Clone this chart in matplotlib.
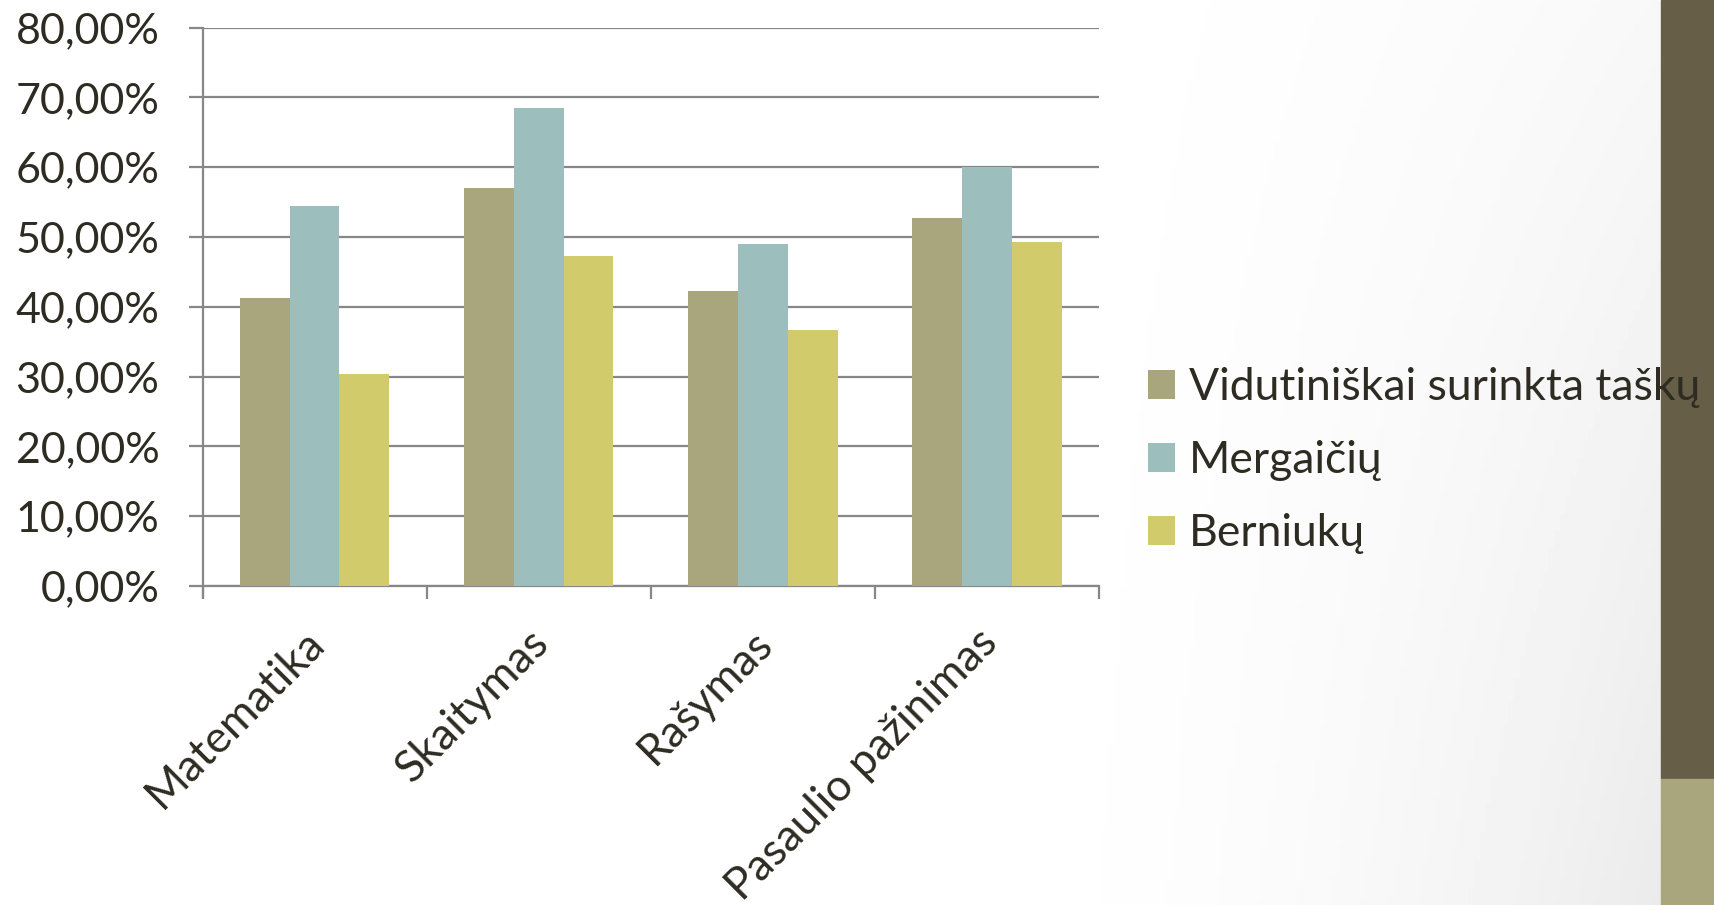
"""
Grouped bar chart: average scores by subject, overall / girls / boys.
"""
import numpy as np
import matplotlib
matplotlib.use("Agg")
import matplotlib.pyplot as plt
import matplotlib.transforms as mtransforms
from matplotlib.ticker import FuncFormatter, FixedLocator

categories = ["Matematika", "Skaitymas", "Rašymas", "Pasaulio pažinimas"]
series_names = ["Vidutiniškai surinkta taškų", "Mergaičių", "Berniukų"]
avg_vals = [0.413, 0.570, 0.423, 0.527]
girls_vals = [0.544, 0.685, 0.490, 0.600]
boys_vals = [0.303, 0.473, 0.367, 0.493]
y_ticks = [0.0, 0.1, 0.2, 0.3, 0.4, 0.5, 0.6, 0.7, 0.8]

COLORS = ["#A9A57C", "#9CBEBD", "#D2CB6C"]
TEXT = "#2E2B22"
GRID = "#878787"
FONT = ["Lato", "DejaVu Sans"]

plt.rcParams["font.family"] = FONT

fig = plt.figure(figsize=(17.14, 9.05), dpi=100)

# soft background shading toward the bottom right
bg = fig.add_axes([0, 0, 1, 1], zorder=-10)
gx, gy = np.meshgrid(np.linspace(0, 1, 300), np.linspace(0, 1, 160))
shade = np.clip((gx - 0.55) / 0.42, 0, 1) ** 2 * (0.35 + 0.65 * gy)
bg.imshow(1 - 0.08 * shade, cmap="gray", vmin=0, vmax=1, aspect="auto",
          extent=[0, 1, 0, 1], origin="upper")
bg.set_xlim(0, 1); bg.set_ylim(0, 1)
bg.axis("off")

# side band on the right
fig.patches.append(plt.Rectangle((1661 / 1714, 126 / 905), 53 / 1714, 779 / 905,
                                 transform=fig.transFigure, color="#675E47", zorder=-5))
fig.patches.append(plt.Rectangle((1661 / 1714, 0), 53 / 1714, 126 / 905,
                                 transform=fig.transFigure, color="#A9A57C", zorder=-5))

ax = fig.add_axes([202.5 / 1714, 319 / 905, 896.5 / 1714, 558.5 / 905])
ax.patch.set_alpha(0)

x = np.arange(len(categories))
w = 1 / 4.5
for i, (vals, name) in enumerate(zip([avg_vals, girls_vals, boys_vals], series_names)):
    ax.bar(x + (i - 1) * w, vals, width=w, color=COLORS[i], label=name, zorder=3)

ax.set_xlim(-0.5, len(categories) - 0.5)
ax.set_ylim(0, 0.8)
ax.set_yticks(y_ticks)
ax.yaxis.set_major_formatter(FuncFormatter(lambda v, p: f"{v * 100:.2f}%".replace(".", ",")))
ax.grid(axis="y", color=GRID, lw=1.6, zorder=0)
ax.set_axisbelow(True)

# category labels, rotated like the slide's chart (placed as texts under the axis)
ax.set_xticks(x)
ax.set_xticklabels([])
lbl_tf = ax.get_xaxis_transform() + mtransforms.ScaledTranslation(-0.11, -0.36, fig.dpi_scale_trans)
for xi, name in zip(x, categories):
    ax.text(xi, 0, name, transform=lbl_tf, rotation=45, rotation_mode="anchor",
            ha="right", va="top", fontsize=32, color=TEXT, clip_on=False)

ax.xaxis.set_minor_locator(FixedLocator(np.arange(-0.5, len(categories), 1.0)))
ax.tick_params(axis="x", which="major", length=0)
ax.tick_params(axis="x", which="minor", length=9, width=1.6, color=GRID)
ax.tick_params(axis="y", length=10, width=1.6, color=GRID, pad=21, labelsize=31, labelcolor=TEXT)

for s in ["top", "right"]:
    ax.spines[s].set_visible(False)
for s in ["left", "bottom"]:
    ax.spines[s].set_color(GRID)
    ax.spines[s].set_linewidth(1.6)
ax.spines["left"].set_bounds(-0.0155, 0.8)

leg = ax.legend(loc="center left", bbox_to_anchor=(1.035, 0.224), frameon=False,
                fontsize=32, handlelength=0.61, handleheight=0.61, handletextpad=0.3,
                labelspacing=0.72, borderaxespad=0)
for t in leg.get_texts():
    t.set_color(TEXT)

fig.savefig("out.png", dpi=100)
plt.close()
